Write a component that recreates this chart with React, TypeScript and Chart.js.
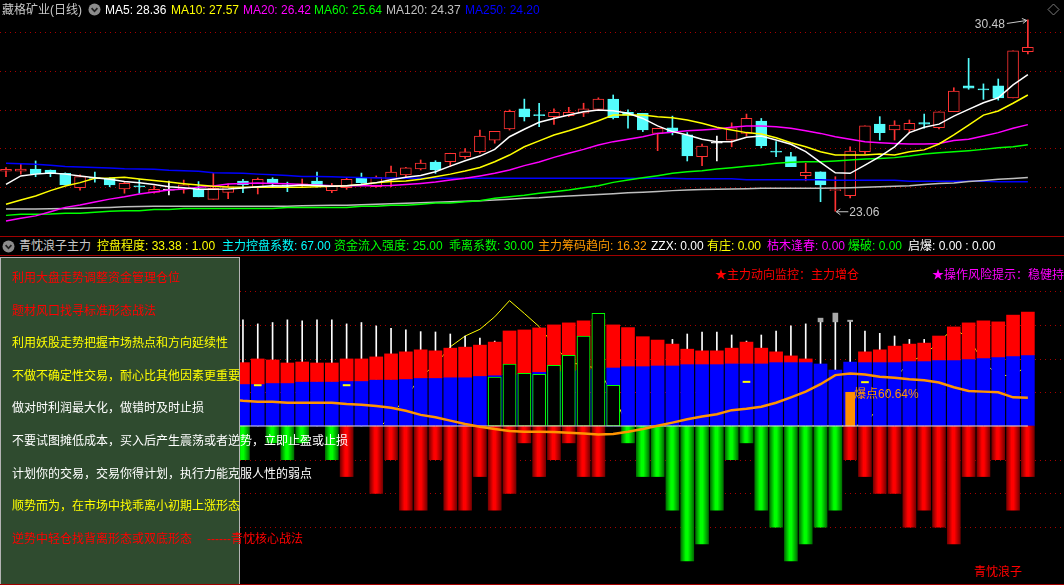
import React, { useEffect, useRef } from 'react';
import { Chart, registerables } from 'chart.js';

Chart.register(...registerables);

const _ = null;

// ---------------- top panel: daily candles (index 0..69) ----------------
const OPEN = [24.61, 24.61, 24.70, 24.66, 24.53, 23.97, 24.37, 24.34, 23.93, 24.04,
  23.79, 23.90, 23.92, 23.91, 23.52, 23.79, 24.23, 24.01, 24.31, 24.08,
  24.04, 24.23, 23.86, 23.97, 24.36, 24.01, 24.30, 24.47, 24.70, 24.97,
  24.98, 25.18, 25.37, 25.82, 26.25, 27.03, 26.80, 26.73, 26.77, 26.86,
  27.01, 27.41, 26.90, 26.86, 26.08, 26.30, 26.02, 25.18, 25.72, 25.82,
  26.08, 26.56, 25.38, 25.18, 24.44, 24.59, 23.86, 23.66, 25.37, 26.44,
  26.21, 26.21, 26.50, 26.30, 26.92, 27.92, 27.80, 27.92, 27.46, 29.25];
const CLOSE = [24.69, 24.70, 24.52, 24.54, 24.08, 24.40, 24.33, 24.08, 24.14, 24.01,
  23.91, 23.90, 24.08, 23.62, 23.95, 24.01, 24.09, 24.30, 24.13, 24.04,
  24.12, 24.08, 24.05, 24.30, 24.17, 24.38, 24.58, 24.74, 24.93, 24.66,
  25.31, 25.36, 25.98, 26.16, 26.94, 26.72, 26.78, 26.90, 26.90, 27.03,
  27.41, 26.69, 26.79, 26.21, 26.28, 26.15, 25.21, 25.59, 25.72, 26.30,
  26.66, 25.60, 25.36, 24.79, 24.57, 24.08, 23.90, 25.39, 26.37, 26.11,
  26.40, 26.47, 26.44, 26.92, 27.72, 27.83, 27.78, 27.46, 29.28, 29.42];
const HIGH = [24.75, 24.92, 25.01, 24.66, 24.55, 24.47, 24.58, 24.36, 24.21, 24.30,
  24.05, 24.23, 24.27, 24.21, 24.53, 24.12, 24.30, 24.35, 24.36, 24.19,
  24.31, 24.58, 24.14, 24.36, 24.54, 24.43, 24.81, 24.76, 25.05, 25.02,
  25.31, 25.49, 26.21, 26.16, 26.99, 27.41, 27.25, 27.03, 27.09, 27.25,
  27.46, 27.57, 26.99, 26.86, 26.28, 26.75, 26.11, 25.67, 25.98, 26.49,
  26.83, 26.66, 25.76, 25.35, 24.92, 24.59, 24.40, 25.56, 26.37, 26.73,
  26.57, 26.60, 26.83, 26.92, 27.85, 28.99, 28.00, 28.19, 29.28, 30.48];
const LOW = [24.40, 24.50, 24.40, 24.40, 24.08, 23.88, 24.19, 24.01, 23.76, 23.76,
  23.76, 23.69, 23.76, 23.62, 23.52, 23.55, 23.78, 23.73, 24.01, 23.82,
  23.99, 23.99, 23.78, 23.91, 24.14, 23.99, 24.01, 24.38, 24.66, 24.53,
  24.79, 25.11, 25.31, 25.70, 26.21, 26.56, 26.34, 26.43, 26.73, 26.73,
  26.99, 26.64, 26.28, 26.15, 25.41, 26.02, 25.01, 24.83, 25.01, 25.56,
  25.98, 25.52, 25.18, 24.79, 24.24, 23.43, 23.06, 23.58, 25.28, 25.82,
  25.82, 26.11, 26.28, 26.25, 26.92, 27.79, 27.40, 27.37, 27.46, 29.16];

const MA5 = [24.10, 24.43, 24.50, 24.54, 24.50, 24.43, 24.36, 24.30, 24.21, 24.17,
  24.10, 24.01, 23.97, 23.91, 23.91, 23.92, 23.96, 24.01, 24.05, 24.04,
  24.08, 24.06, 24.03, 24.05, 24.10, 24.17, 24.28, 24.38, 24.45, 24.59,
  24.81, 25.02, 25.20, 25.46, 25.95, 26.24, 26.51, 26.66, 26.79, 26.92,
  26.99, 26.96, 26.86, 26.66, 26.37, 26.15, 26.02, 25.85, 25.76, 25.76,
  25.93, 25.98, 25.82, 25.66, 25.37, 24.96, 24.55, 24.53, 24.85, 25.18,
  25.56, 26.11, 26.32, 26.44, 26.75, 27.01, 27.27, 27.46, 27.96, 28.36];
const MA10 = [23.33, 23.50, 23.65, 23.86, 24.04, 24.17, 24.34, 24.35, 24.38, 24.31,
  24.25, 24.19, 24.13, 24.08, 24.03, 24.00, 23.99, 23.99, 23.99, 23.99,
  23.99, 24.01, 24.03, 24.05, 24.10, 24.17, 24.21, 24.23, 24.30, 24.40,
  24.50, 24.62, 24.76, 24.98, 25.24, 25.56, 25.79, 26.02, 26.18, 26.37,
  26.57, 26.79, 26.79, 26.79, 26.73, 26.69, 26.60, 26.47, 26.32, 26.21,
  26.11, 26.06, 25.91, 25.72, 25.56, 25.37, 25.24, 25.24, 25.24, 25.28,
  25.24, 25.37, 25.44, 25.67, 26.02, 26.40, 26.79, 26.95, 27.25, 27.57];
const MA20 = [22.68, 22.79, 22.88, 23.04, 23.21, 23.30, 23.42, 23.53, 23.62, 23.73,
  23.81, 23.88, 23.92, 23.99, 24.04, 24.12, 24.14, 24.16, 24.14, 24.13,
  24.10, 24.08, 24.05, 24.05, 24.05, 24.05, 24.06, 24.10, 24.14, 24.19,
  24.27, 24.34, 24.43, 24.53, 24.66, 24.83, 24.97, 25.15, 25.31, 25.46,
  25.63, 25.76, 25.85, 25.95, 26.08, 26.12, 26.18, 26.21, 26.25, 26.32,
  26.37, 26.37, 26.34, 26.28, 26.18, 26.08, 25.95, 25.85, 25.76, 25.72,
  25.69, 25.67, 25.67, 25.69, 25.80, 25.85, 25.98, 26.11, 26.28, 26.42];
const MA60 = [22.90, 22.94, 22.94, 22.95, 22.98, 22.98, 23.02, 23.06, 23.08, 23.08,
  23.13, 23.13, 23.17, 23.17, 23.17, 23.17, 23.17, 23.17, 23.17, 23.21,
  23.21, 23.21, 23.21, 23.21, 23.25, 23.25, 23.29, 23.29, 23.33, 23.38,
  23.38, 23.43, 23.47, 23.56, 23.62, 23.68, 23.76, 23.82, 23.88, 23.97,
  24.05, 24.18, 24.27, 24.36, 24.44, 24.53, 24.59, 24.63, 24.70, 24.75,
  24.81, 24.85, 24.92, 24.96, 24.98, 24.98, 25.01, 25.05, 25.09, 25.11,
  25.14, 25.20, 25.28, 25.33, 25.37, 25.41, 25.46, 25.52, 25.56, 25.64];
const MA120 = [23.15, 23.15, 23.15, 23.16, 23.17, 23.18, 23.20, 23.21, 23.23, 23.24,
  23.25, 23.25, 23.25, 23.25, 23.25, 23.25, 23.25, 23.25, 23.25, 23.25,
  23.27, 23.28, 23.29, 23.29, 23.31, 23.33, 23.35, 23.37, 23.39, 23.41,
  23.43, 23.45, 23.47, 23.50, 23.53, 23.56, 23.58, 23.62, 23.65, 23.68,
  23.71, 23.74, 23.78, 23.80, 23.83, 23.86, 23.88, 23.90, 23.91, 23.92,
  23.93, 23.95, 23.95, 23.95, 23.95, 23.95, 23.96, 23.97, 23.99, 24.01,
  24.03, 24.05, 24.10, 24.14, 24.16, 24.21, 24.25, 24.30, 24.33, 24.37];
const MA250 = [24.92, 24.90, 24.88, 24.84, 24.80, 24.78, 24.76, 24.74, 24.71, 24.70,
  24.69, 24.65, 24.63, 24.61, 24.55, 24.54, 24.53, 24.50, 24.48, 24.45,
  24.41, 24.41, 24.40, 24.38, 24.37, 24.35, 24.35, 24.34, 24.34, 24.34,
  24.34, 24.34, 24.34, 24.34, 24.34, 24.34, 24.34, 24.34, 24.34, 24.34,
  24.34, 24.34, 24.34, 24.34, 24.34, 24.34, 24.32, 24.32, 24.32, 24.32,
  24.28, 24.28, 24.28, 24.28, 24.28, 24.28, 24.26, 24.26, 24.26, 24.26,
  24.26, 24.22, 24.22, 24.22, 24.22, 24.22, 24.22, 24.20, 24.20, 24.20];
const PRICE_GRID = [24, 25.5, 27, 28.5, 30];

// ---------------- bottom panel: 青忱浪子主力 ----------------
const BLUE_TOP = [_, _, _, _, _, _, _, _, _, _, _, _, _, _, _, _, 12.5, 12.5, 12.8, 12.8,
  13.2, 13.2, 13.2, 13.4, 13.4, 13.8, 13.8, 14.0, 14.3, 14.3,
  14.5, 14.5, 14.9, 15.1, 15.3, 15.6, 16.1, 16.3, 16.5, 16.8,
  17.0, 17.4, 17.8, 17.8, 18.0, 18.0, 18.4, 18.4, 18.4, 18.6,
  18.6, 18.6, 19.0, 19.0, 19.0, 18.4, 16.6, 19.0, 19.0, 19.0,
  19.0, 19.3, 19.3, 19.6, 19.6, 19.9, 20.2, 20.5, 20.8, 21.1];
const RED_TOP = [_, _, _, _, _, _, _, _, _, _, _, _, _, _, _, _, 18.8, 19.9, 19.6, 18.7,
  19.0, 18.7, 18.7, 19.9, 19.9, 20.5, 21.4, 22.0, 22.6, 22.3,
  23.1, 23.4, 24.0, 24.9, 28.2, 28.5, 29.1, 30.0, 30.6, 31.2,
  31.7, 30.0, 29.2, 26.5, 25.5, 24.3, 22.8, 22.3, 22.3, 23.1,
  24.9, 23.1, 22.0, 20.8, 19.9, 18.4, 16.6, 19.0, 22.0, 22.6,
  23.7, 24.3, 24.6, 26.7, 29.4, 30.6, 31.2, 30.9, 32.9, 33.8];
const WHITE_TOP = [_, _, _, _, _, _, _, _, _, _, _, _, _, _, _, _, 31.5, 30.3, 30.7, 31.5,
  31.2, 31.5, 31.5, 30.3, 30.7, 29.7, 29.0, 28.5, 28.0, 27.9,
  27.3, 26.7, 26.1, 25.2, _, _, _, _, _, _,
  _, _, _, _, _, 25.7, 27.3, 27.9, 27.9, 27.0,
  25.2, 27.0, 28.2, 29.7, 30.3, 31.0, 31.0, 31.2, 28.2, 27.5,
  26.7, 25.7, 25.7, _, _, _, _, _, _, _];
const CAP_LOW = [_, _, _, _, _, _, _, _, _, _, _, _, _, _, _, _, _, _, _, _,
  _, _, _, _, _, _, _, _, _, _, _, _, _, _, _, _, _, _, _, _,
  _, _, _, _, _, _, _, _, _, _, _, _, _, _, _, 30.9, 30.9, 31.0, _, _,
  _, _, _, _, _, _, _, _, _, _];
const CAP_HIGH = [_, _, _, _, _, _, _, _, _, _, _, _, _, _, _, _, _, _, _, _,
  _, _, _, _, _, _, _, _, _, _, _, _, _, _, _, _, _, _, _, _,
  _, _, _, _, _, _, _, _, _, _, _, _, _, _, _, 32.0, 33.5, 31.4, _, _,
  _, _, _, _, _, _, _, _, _, _];
const GREEN_TOP = [_, _, _, _, _, _, _, _, _, _, _, _, _, _, _, _, _, _, _, _,
  _, _, _, _, _, _, _, _, _, _, _, _, _, 14.5, 18.4, 15.6, 15.3, 18.0, 21.0, 26.7,
  33.4, 12.1, _, _, _, _, _, _, _, _,
  _, _, _, _, _, _, _, _, _, _, _, _, _, _, _, _, _, _, _, _];
const NEG = [_, _, _, _, _, _, _, _, _, _, _, _, _, _, _, _, -10, _, -5, -10,
  -5, _, -10, -15, _, -20, -10, -25, -25, -10,
  -25, -25, -15, -25, -20, -5, -15, -10, -5, -15,
  -15, _, -5, -15, -15, -25, -40, -35, -25, -10,
  -5, -25, -30, -40, -35, -30, -25, -10, -15, -20,
  -20, -30, -25, -30, -35, -15, -15, -10, -25, -15];
const NEG_TONE = ['', '', '', '', '', '', '', '', '', '', '', '', '', '', '', '', 'g', '', 'g', 'g',
  'g', '', 'g', 'r', '', 'r', 'r', 'r', 'r', 'r',
  'r', 'r', 'r', 'r', 'r', 'r', 'r', 'r', 'r', 'r',
  'r', '', 'g', 'g', 'g', 'g', 'g', 'g', 'g', 'g',
  'g', 'g', 'g', 'g', 'g', 'g', 'g', 'r', 'r', 'r',
  'r', 'r', 'r', 'r', 'r', 'r', 'r', 'r', 'r', 'r'];
const ORANGE = [_, _, _, _, _, _, _, _, _, _, _, _, _, _, _, 7.9, 7.5, 7.2, 7.2, 6.9,
  6.9, 6.9, 6.9, 6.5, 6.3, 5.9, 5.4, 4.5, 3.3, 2.6,
  1.6, 0.6, -0.2, -0.9, -1.5, -1.7, -1.7, -1.8, -2.0, -2.2,
  -2.5, -2.4, -1.7, -0.9, 0.1, 1.0, 2.0, 2.8, 3.5, 4.7,
  5.1, 5.7, 6.9, 8.5, 10.2, 12.4, 15.1, 15.6, 15.3, 14.6,
  14.3, 13.9, 13.6, 12.9, 11.5, 10.4, 10.2, 10.0, 8.5, 8.4];
const YELLOW = [_, _, _, _, _, _, _, _, _, _, _, _, _, _, _, _, _, _, _, _,
  _, _, _, _, _, -1.5, 3.1, 8.5, 14.6, 18.2,
  23.5, 26.7, 28.7, 32.4, 37.2, 33.4, 29.5, 24.0, 19.0, 18.0,
  17.0, 9.0, 0, 0, 0, 0, 0, 0, 0, 0,
  0, 0, 0, 0, 0, 0, 0, 0, 0.5, 6.0,
  14.0, 19.0, 21.0, 25.0, 29.0, 26.0, 19.0, 15.0, 15.0, 18.0];
const DASH = [_, _, _, _, _, _, _, _, _, _, _, _, _, _, _, _, _, 12.1, _, _,
  _, _, _, 12.1, _, _, _, _, _, _, _, _, _, _, _, _, _, _, _, _,
  _, _, _, _, _, _, _, _, _, _, 13.1, _, _, _, _, _, _, _, 13.0, _,
  _, _, _, _, _, _, _, _, _, _];
const BOOM = [_, _, _, _, _, _, _, _, _, _, _, _, _, _, _, _, _, _, _, _,
  _, _, _, _, _, _, _, _, _, _, _, _, _, _, _, _, _, _, _, _,
  _, _, _, _, _, _, _, _, _, _, _, _, _, _, _, _, _, 10.0, _, _,
  _, _, _, _, _, _, _, _, _, _];
const IND_GRID = [-30, -20, -10, 10, 20, 30, 40];

const HEADER2 = [
  { x: 97, color: '#FFFF00', text: '控盘程度: 33.38 : 1.00' },
  { x: 222, color: '#00FFFF', text: '主力控盘系数: 67.00' },
  { x: 334, color: '#00FF00', text: '资金流入强度: 25.00' },
  { x: 449, color: '#00FF00', text: '乖离系数: 30.00' },
  { x: 538, color: '#FF9900', text: '主力筹码趋向: 16.32' },
  { x: 651, color: '#FFFFFF', text: 'ZZX: 0.00' },
  { x: 707, color: '#FFFF00', text: '有庄: 0.00' },
  { x: 767, color: '#FF00FF', text: '枯木逢春: 0.00' },
  { x: 848, color: '#00FF00', text: '爆破: 0.00' },
  { x: 908, color: '#FFFFFF', text: '启爆: 0.00 : 0.00' },
];
const NOTES = [
  { color: '#FF0000', text: '利用大盘走势调整资金管理仓位' },
  { color: '#FF0000', text: '题材风口找寻标准形态战法' },
  { color: '#FFFF00', text: '利用妖股走势把握市场热点和方向延续性' },
  { color: '#FFFF00', text: '不做不确定性交易，耐心比其他因素更重要' },
  { color: '#FFFFFF', text: '做对时利润最大化，做错时及时止损' },
  { color: '#FFFFFF', text: '不要试图摊低成本，买入后产生震荡或者逆势，立即止盈或止损' },
  { color: '#FFFFFF', text: '计划你的交易，交易你得计划，执行力能克服人性的弱点' },
  { color: '#FFFF00', text: '顺势而为，在市场中找乖离小初期上涨形态' },
  { color: '#FF0000', text: '逆势中轻仓找背离形态或双底形态' },
];

// ---------------- layout constants ----------------
const W = 1064;
const TOP_H = 236;
const BOT_Y = 255;
const BOT_H = 330;
const X_MIN = -0.405;
const X_MAX = 71.44;
const UP = '#FF3232';
const DOWN = '#54FCFC';
const FLAT = '#FFFFFF';
const GRID = '#A80000';
const FONT = '"Liberation Sans", "Noto Sans CJK SC", Arial, sans-serif';

const IDX = OPEN.map((_v, i) => i);

const dottedGrid = (levels: number[]) => ({
  id: 'dottedGrid',
  beforeDatasetsDraw(chart: any) {
    const { ctx, chartArea, scales } = chart;
    ctx.save();
    ctx.strokeStyle = GRID;
    ctx.lineWidth = 1;
    ctx.setLineDash([1, 4]);
    for (const v of levels) {
      const y = Math.round(scales.y.getPixelForValue(v)) + 0.5;
      ctx.beginPath();
      ctx.moveTo(chartArea.left, y);
      ctx.lineTo(chartArea.right, y);
      ctx.stroke();
    }
    ctx.restore();
  },
});

const extremes = {
  id: 'extremes',
  afterDatasetsDraw(chart: any) {
    const { ctx, scales } = chart;
    const hi = Math.max(...HIGH);
    const hiI = HIGH.indexOf(hi);
    const lo = Math.min(...LOW);
    const loI = LOW.indexOf(lo);
    ctx.save();
    ctx.strokeStyle = '#C8C8C8';
    ctx.fillStyle = '#C8C8C8';
    ctx.lineWidth = 1;
    ctx.font = '12px ' + FONT;
    ctx.textBaseline = 'middle';
    const hx = scales.x.getPixelForValue(hiI);
    const hy = scales.y.getPixelForValue(hi);
    ctx.beginPath();
    ctx.moveTo(hx - 21, hy + 3.5);
    ctx.lineTo(hx - 1, hy + 0.5);
    ctx.moveTo(hx - 6, hy - 1.5);
    ctx.lineTo(hx - 1, hy + 0.5);
    ctx.lineTo(hx - 5, hy + 3.5);
    ctx.stroke();
    ctx.textAlign = 'right';
    ctx.fillText(hi.toFixed(2), hx - 23, hy + 5);
    const lx = scales.x.getPixelForValue(loI);
    const ly = scales.y.getPixelForValue(lo) + 0.5;
    ctx.beginPath();
    ctx.moveTo(lx + 1, ly);
    ctx.lineTo(lx + 13, ly);
    ctx.moveTo(lx + 5, ly - 3);
    ctx.lineTo(lx + 1, ly);
    ctx.lineTo(lx + 5, ly + 3);
    ctx.stroke();
    ctx.textAlign = 'left';
    ctx.fillText(lo.toFixed(2), lx + 14, ly + 1);
    ctx.restore();
  },
};

const pts = (arr: (number | null)[]) => arr.map((v, i) => ({ x: i, y: v }));
const floating = (lo: number | (number | null)[], hi: (number | null)[]) =>
  IDX.flatMap((i) => {
    const a = typeof lo === 'number' ? lo : lo[i];
    const b = hi[i];
    if (a == null || b == null || a === b) return [];
    return [{ x: i, y: [a, b] }];
  });

function topConfig(): any {
  const dir = IDX.map((i) => (CLOSE[i] > OPEN[i] ? 1 : CLOSE[i] < OPEN[i] ? -1 : 0));
  const col = dir.map((d) => (d > 0 ? UP : d < 0 ? DOWN : FLAT));
  const wicks = IDX.map((i) => ({ x: i, y: [LOW[i], HIGH[i]] }));
  const bodies = IDX.map((i) => {
    let lo = Math.min(OPEN[i], CLOSE[i]);
    let hi = Math.max(OPEN[i], CLOSE[i]);
    if (hi - lo < 0.04) {
      const m = (lo + hi) / 2;
      lo = m - 0.02;
      hi = m + 0.02;
    }
    return { x: i, y: [lo, hi] };
  });
  const line = (arr: number[], color: string, order: number) => ({
    type: 'line', data: pts(arr), borderColor: color, borderWidth: 1.5,
    pointRadius: 0, tension: 0, order,
  });
  return {
    type: 'bar',
    data: {
      datasets: [
        { type: 'bar', data: wicks, backgroundColor: col, borderWidth: 0, barThickness: 1, grouped: false, order: 20 },
        {
          type: 'bar', data: bodies, backgroundColor: dir.map((d) => (d > 0 ? '#000000' : d < 0 ? DOWN : FLAT)),
          borderColor: col, borderWidth: 1, borderSkipped: false, barThickness: 11, grouped: false, order: 19,
        },
        line(MA250, '#0000FF', 6),
        line(MA120, '#BEBEBE', 5),
        line(MA60, '#00FF00', 4),
        line(MA20, '#FF00FF', 3),
        line(MA10, '#FFFF00', 2),
        line(MA5, '#FFFFFF', 1),
      ],
    },
    options: {
      animation: false,
      responsive: false,
      maintainAspectRatio: false,
      events: [],
      layout: { padding: 0 },
      plugins: { legend: { display: false }, tooltip: { enabled: false } },
      scales: {
        x: { type: 'linear', min: X_MIN, max: X_MAX, offset: false, display: false },
        y: { min: 22.10, max: 31.254, display: false },
      },
    },
    plugins: [dottedGrid(PRICE_GRID), extremes],
  };
}

function botConfig(): any {
  const negFill = (c: any) => {
    const raw = c.raw;
    const chart = c.chart;
    const fallback = raw && NEG_TONE[raw.x] === 'g' ? '#00E000' : '#E00000';
    if (!raw || !chart || !chart.scales || !chart.scales.x) return fallback;
    const cx = chart.scales.x.getPixelForValue(raw.x);
    if (!Number.isFinite(cx)) return fallback;
    const g = chart.ctx.createLinearGradient(cx - 6.5, 0, cx + 6.5, 0);
    const green = NEG_TONE[raw.x] === 'g';
    const dark = green ? '#007000' : '#780000';
    const bright = green ? '#00FF00' : '#FF0000';
    g.addColorStop(0, dark);
    g.addColorStop(0.38, bright);
    g.addColorStop(0.55, bright);
    g.addColorStop(1, dark);
    return g;
  };
  const bar = (data: any[], color: any, thickness: number, order: number, extra: any = {}) => ({
    type: 'bar', data, backgroundColor: color, borderWidth: 0, barThickness: thickness,
    grouped: false, order, ...extra,
  });
  return {
    type: 'bar',
    data: {
      datasets: [
        { type: 'line', data: pts(YELLOW), borderColor: '#FFFF00', borderWidth: 1, pointRadius: 0, tension: 0, order: 30 },
        bar(floating(0, WHITE_TOP), '#FFFFFF', 1, 29),
        bar(floating(0, BLUE_TOP), '#0000FF', 13, 28),
        bar(floating(BLUE_TOP, RED_TOP), '#FF0000', 13, 27),
        bar(floating(CAP_LOW, CAP_HIGH), '#A8A8A8', 5, 26),
        bar(floating(0, GREEN_TOP), '#000000', 13, 25, { borderColor: '#00FF00', borderWidth: 1, borderSkipped: false }),
        bar(floating(0, NEG), negFill, 13, 24),
        bar(floating(DASH.map((v) => (v == null ? null : v - 0.2)), DASH.map((v) => (v == null ? null : v + 0.2))), '#FFFF00', 7, 23),
        bar(floating(0, BOOM), '#FF9000', 9, 22),
        { type: 'line', data: IDX.map((i) => ({ x: i, y: 0 })), borderColor: '#E0E0E0', borderWidth: 1, pointRadius: 0, order: 21 },
        { type: 'line', data: pts(ORANGE), borderColor: '#FF9400', borderWidth: 2.5, pointRadius: 0, tension: 0, order: 20 },
      ],
    },
    options: {
      animation: false,
      responsive: false,
      maintainAspectRatio: false,
      events: [],
      layout: { padding: 0 },
      plugins: { legend: { display: false }, tooltip: { enabled: false } },
      scales: {
        x: { type: 'linear', min: X_MIN, max: X_MAX, offset: false, display: false },
        y: { min: -47.18, max: 50.74, display: false },
      },
    },
    plugins: [dottedGrid(IND_GRID)],
  };
}

const T = ({ x, y, color, children, size = 12 }: any) => (
  <div
    style={{
      position: 'absolute', left: x, top: y - 7, fontSize: size, lineHeight: '14px',
      color, whiteSpace: 'nowrap', fontFamily: FONT,
    }}
  >
    {children}
  </div>
);

const Badge = ({ x, y }: { x: number; y: number }) => (
  <svg style={{ position: 'absolute', left: x, top: y }} width={13} height={13}>
    <circle cx={6.5} cy={6.5} r={6} fill="#8C8C8C" />
    <path d="M3.6 5.2 L6.5 8.3 L9.4 5.2" stroke="#202020" strokeWidth={1.7} fill="none" />
  </svg>
);

export default function App() {
  const topRef = useRef<HTMLCanvasElement>(null);
  const botRef = useRef<HTMLCanvasElement>(null);

  useEffect(() => {
    document.body.style.margin = '0';
    document.body.style.background = '#000';
    const c1 = new Chart(topRef.current as HTMLCanvasElement, topConfig());
    const c2 = new Chart(botRef.current as HTMLCanvasElement, botConfig());
    return () => {
      c1.destroy();
      c2.destroy();
    };
  }, []);

  const last = OPEN.length - 1;
  const maItems = [
    { x: 105, color: '#FFFFFF', label: 'MA5', arr: MA5 },
    { x: 171, color: '#FFFF00', label: 'MA10', arr: MA10 },
    { x: 243, color: '#FF00FF', label: 'MA20', arr: MA20 },
    { x: 314, color: '#00FF00', label: 'MA60', arr: MA60 },
    { x: 386, color: '#C0C0C0', label: 'MA120', arr: MA120 },
    { x: 465, color: '#0000FF', label: 'MA250', arr: MA250 },
  ];

  return (
    <div style={{ position: 'absolute', left: 0, top: 0, width: W, height: 585, background: '#000', overflow: 'hidden' }}>
      <canvas ref={topRef} width={W} height={TOP_H} style={{ position: 'absolute', left: 0, top: 0 }} />
      <canvas ref={botRef} width={W} height={BOT_H} style={{ position: 'absolute', left: 0, top: BOT_Y }} />

      <div style={{ position: 'absolute', left: 0, top: 236, width: W, height: 1, background: '#A00000' }} />
      <div style={{ position: 'absolute', left: 0, top: 255, width: W, height: 1, background: '#A00000' }} />

      <T x={2} y={9.5} color="#C8C8C8">藏格矿业(日线)</T>
      <Badge x={88} y={3} />
      {maItems.map((m) => (
        <T key={m.label} x={m.x} y={9.5} color={m.color}>{`${m.label}: ${m.arr[last].toFixed(2)}`}</T>
      ))}
      <svg style={{ position: 'absolute', left: 1047, top: 3 }} width={14} height={14}>
        <polygon points="6.5,1 12,6.5 6.5,12 1,6.5" stroke="#7A7A7A" strokeWidth={1} fill="none" />
      </svg>

      <Badge x={2} y={240} />
      <T x={19} y={246} color="#C8C8C8">青忱浪子主力</T>
      {HEADER2.map((h) => (
        <T key={h.text} x={h.x} y={246} color={h.color}>{h.text}</T>
      ))}

      <T x={715} y={275} color="#FF0000">★主力动向监控：主力增仓</T>
      <T x={932} y={275} color="#FF00FF">★操作风险提示：稳健持有</T>
      <T x={854} y={394} color="#FF9400">爆点60.64%</T>
      <T x={974} y={572} color="#FF0000">青忱浪子</T>

      <div
        style={{
          position: 'absolute', left: 0, top: 257, width: 238, height: 340,
          background: '#2F4B2F', border: '1px solid #B4B4B4', boxSizing: 'content-box',
        }}
      />
      {NOTES.map((n, i) => (
        <T key={n.text} x={12} y={278 + i * 32.6} color={n.color}>{n.text}</T>
      ))}
      <T x={207} y={539} color="#FF0000">------青忱核心战法</T>

      <div style={{ position: 'absolute', left: 0, top: 584, width: W, height: 1, background: '#A00000' }} />
    </div>
  );
}
